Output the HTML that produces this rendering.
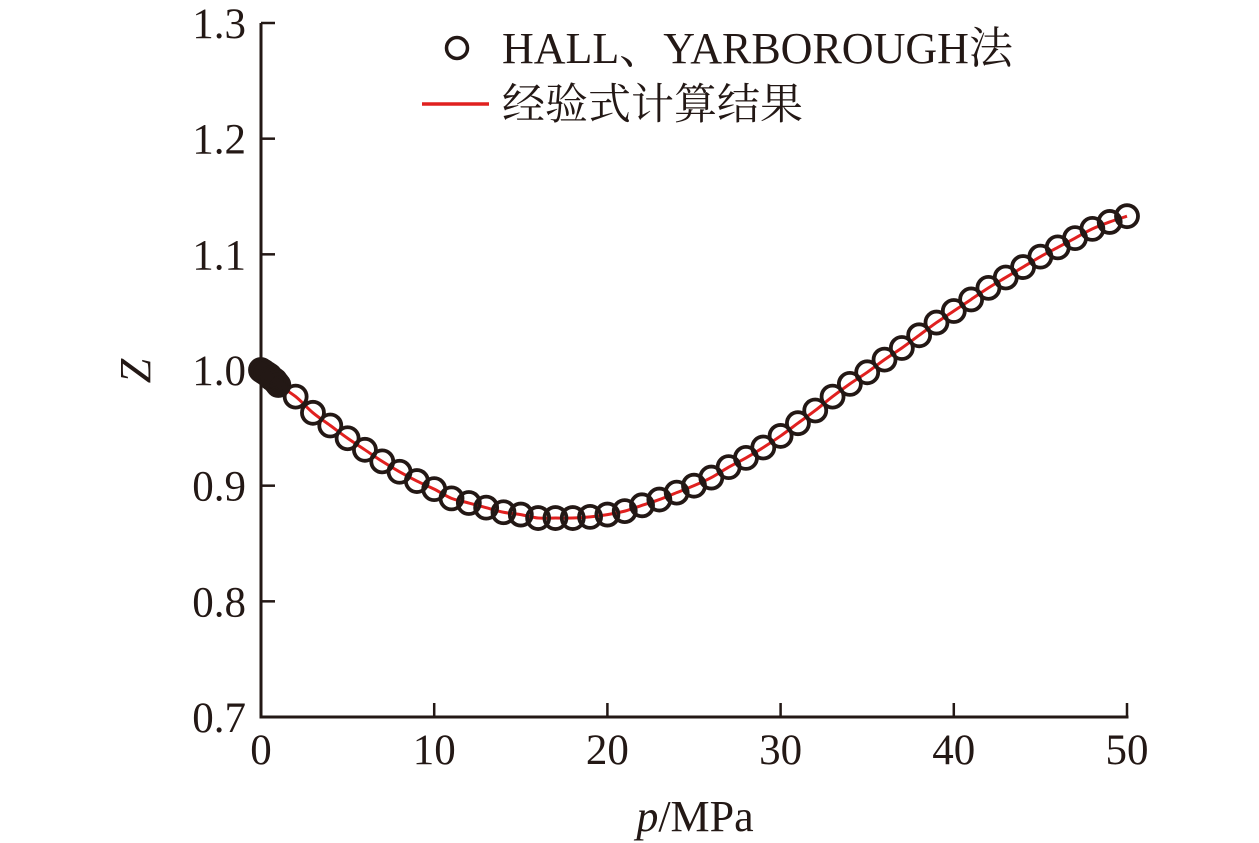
<!DOCTYPE html>
<html><head><meta charset="utf-8"><style>
html,body{margin:0;padding:0;background:#fff;}
svg{display:block;}
text{font-family:"Liberation Serif","Noto Serif CJK SC",serif;fill:#231815;}
</style></head><body>
<svg id="chart" width="1259" height="843" viewBox="0 0 1259 843" xmlns="http://www.w3.org/2000/svg">
<g id="axes"></g>
<g id="line"></g>
<g id="markers"></g>
<g id="legend">
  <circle cx="457" cy="48" r="10.5" fill="none" stroke="#231815" stroke-width="3.5"/>
  <text x="502" y="63" font-size="44">HALL、YARBOROUGH法</text>
  <line x1="422" y1="104" x2="489" y2="104" stroke="#e0201f" stroke-width="3.5"/>
  <text x="502" y="119" font-size="43">经验式计算结果</text>
</g>
<text transform="translate(150,371) rotate(-90)" text-anchor="middle" font-size="44" font-style="italic">Z</text>
<text x="695" y="831" text-anchor="middle" font-size="44"><tspan font-style="italic">p</tspan>/MPa</text>
</svg>
<script>
const pValues=[0,0.1,0.2,0.3,0.4,0.5,0.6,0.7,0.8,0.9,1,2,3,4,5,6,7,8,9,10,11,12,13,14,15,16,17,18,19,20,21,22,23,24,25,26,27,28,29,30,31,32,33,34,35,36,37,38,39,40,41,42,43,44,45,46,47,48,49,50];
const zValues=[1.000,0.999,0.998,0.997,0.996,0.995,0.993,0.992,0.991,0.989,0.987,0.977,0.963,0.952,0.941,0.931,0.921,0.912,0.904,0.897,0.889,0.885,0.881,0.877,0.875,0.872,0.872,0.872,0.873,0.875,0.878,0.883,0.888,0.894,0.900,0.907,0.916,0.924,0.933,0.943,0.954,0.965,0.977,0.988,0.998,1.009,1.019,1.030,1.041,1.051,1.061,1.071,1.080,1.089,1.098,1.106,1.114,1.122,1.128,1.133];
const xTicks=[0,10,20,30,40,50];
const yTicks=[0.7,0.8,0.9,1.0,1.1,1.2,1.3];
const yTickLabels=["0.7","0.8","0.9","1.0","1.1","1.2","1.3"];

const X0=261,X1=1127,Y0=717,Y1=23;
const xs=v=>X0+(v-0)/(50-0)*(X1-X0);
const ys=v=>Y0-(v-0.7)/(1.3-0.7)*(Y0-Y1);
const NS="http://www.w3.org/2000/svg";
function mk(parent,tag,attrs){const e=document.createElementNS(NS,tag);for(const k in attrs)e.setAttribute(k,attrs[k]);parent.appendChild(e);return e;}
const axes=document.getElementById('axes');
let e=mk(axes,'line',{x1:X0,y1:Y1,x2:X0,y2:Y0+1.5,stroke:'#231815','stroke-width':3});


e=mk(axes,'line',{x1:X0-1.5,y1:Y0,x2:X1+1.5,y2:Y0,stroke:'#231815','stroke-width':3});


xTicks.forEach(t=>{
  const x=xs(t);
  let l=mk(axes,'line',{x1:x,y1:Y0,x2:x,y2:Y0-14,stroke:'#231815','stroke-width':2.5});
  
  
  let tx=mk(axes,'text',{x:x,y:764,'text-anchor':'middle','font-size':43});
  tx.textContent=t;
  
  
});
yTicks.forEach((t,i)=>{
  const y=ys(t);
  let l=mk(axes,'line',{x1:X0,y1:y,x2:X0+14,y2:y,stroke:'#231815','stroke-width':2.5});
  
  
  let tx=mk(axes,'text',{x:246,y:y+15,'text-anchor':'end','font-size':43});
  tx.textContent=yTickLabels[i];
  
  
});
const pts=pValues.map((p,i)=>[xs(p),ys(zValues[i])]);
let d='M'+pts[0][0]+','+pts[0][1];
for(let i=0;i<pts.length-1;i++){
  const p0=pts[Math.max(0,i-1)],p1=pts[i],p2=pts[i+1],p3=pts[Math.min(pts.length-1,i+2)];
  const c1=[p1[0]+(p2[0]-p0[0])/6,p1[1]+(p2[1]-p0[1])/6];
  const c2=[p2[0]-(p3[0]-p1[0])/6,p2[1]-(p3[1]-p1[1])/6];
  d+=` C${c1[0]},${c1[1]} ${c2[0]},${c2[1]} ${p2[0]},${p2[1]}`;
}
const path=mk(document.getElementById('line'),'path',{d:d,fill:'none',stroke:'#e0201f','stroke-width':3});


const mg=document.getElementById('markers');
pValues.forEach((p,i)=>{
  const c=mk(mg,'circle',{cx:xs(p),cy:ys(zValues[i]),r:11,fill:'none',stroke:'#231815','stroke-width':3.8});
  
  
});
</script>
</body></html>
